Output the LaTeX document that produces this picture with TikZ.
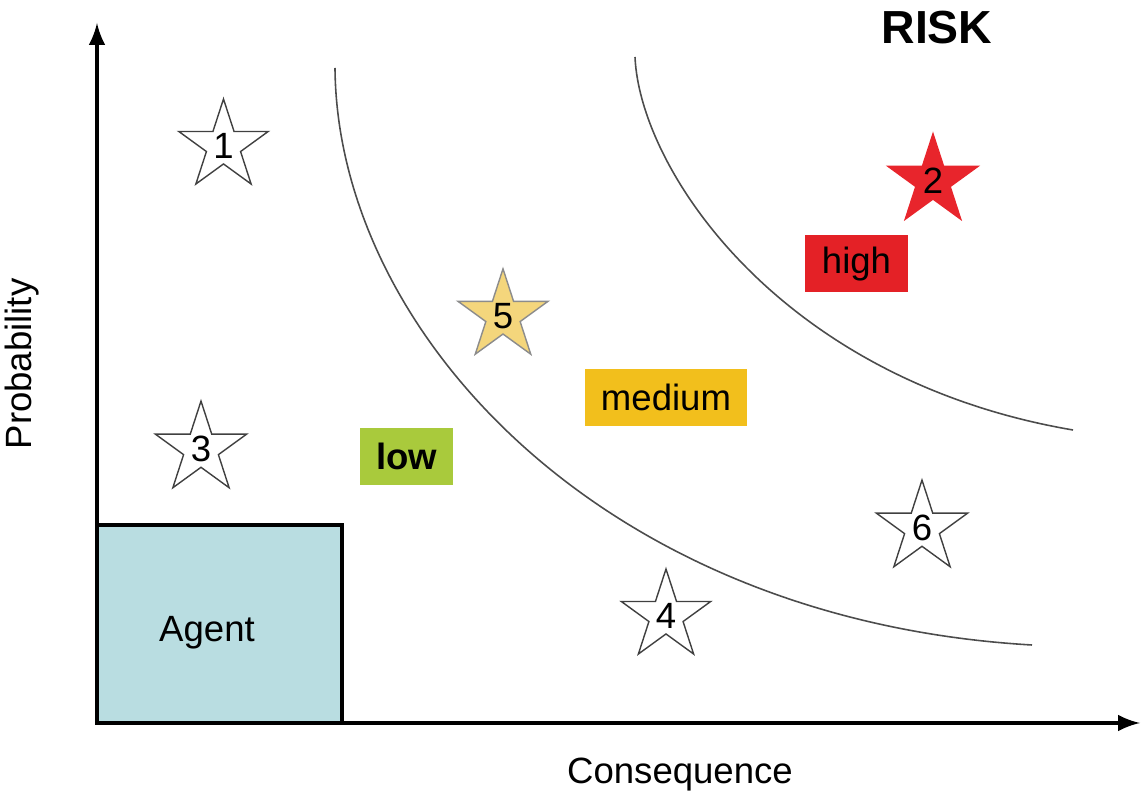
\documentclass[tikz,border=0pt]{standalone}
\usepackage{fontspec}
\setmainfont{Liberation Sans}
\usepackage{tikz}
\usetikzlibrary{arrows,shapes,positioning}

\definecolor{agentblue}{HTML}{B9DDE1}
\definecolor{lowgreen}{HTML}{A9CA3C}
\definecolor{medgold}{HTML}{F2BF1C}
\definecolor{highred}{HTML}{E42126}
\definecolor{starred}{HTML}{E8252C}
\definecolor{staryellow}{HTML}{F4D67C}

\begin{document}
\begin{tikzpicture}
    \useasboundingbox (0,0) rectangle (11.42,-7.97);

    \tikzset{every node/.style={font=\fontsize{10.4}{12}\selectfont},
        riskstar/.style={star,star points=5,star point ratio=2.618,draw=black!75,thin,
            minimum size=0.94cm,inner sep=0pt},
        levelbox/.style={rectangle,inner sep=0pt,minimum height=0.57cm},
        axis/.style={-latex,line width=1.15pt},
        border/.style={black!70,line width=0.45pt}}

    \draw[fill=agentblue, line width=1.4pt] (0.97,-5.25) rectangle (3.42,-7.23);
    \node at (2.07,-6.33) (agent) {Agent};

    \coordinate (o) at (0.97,-7.23);
    \coordinate (ytip) at (0.97,-0.23);
    \coordinate (xtip) at (11.40,-7.23);
    \draw[axis] (o) -- (ytip);
    \draw[axis] (o) -- (xtip);

    \node[rotate=90] at (0.22,-3.64) (prob) {Probability};
    \node at (6.80,-7.75) (cons) {Consequence};
    \node[font=\fontsize{13.2}{15}\selectfont\bfseries] at (9.37,-0.28) (risk) {RISK};

    \draw[border] (3.35,-0.68) .. controls (3.37,-3.30) and (6.00,-6.20) .. (10.32,-6.45);
    \draw[border] (6.35,-0.57) .. controls (6.40,-1.70) and (7.80,-3.80) .. (10.73,-4.30);

    \node[levelbox, fill=lowgreen, minimum width=0.93cm, font=\fontsize{10.4}{12}\selectfont\bfseries]
        at (4.065,-4.565) (low) {low};
    \node[levelbox, fill=medgold, minimum width=1.62cm] at (6.66,-3.975) (medium) {medium};
    \node[levelbox, fill=highred, minimum width=1.03cm] at (8.565,-2.64) (high) {high};

    \node[riskstar] at (2.235,-1.46) (s1) {1};
    \node[riskstar, fill=starred, draw=starred] at (9.33,-1.81) (s2) {2};
    \node[riskstar] at (2.01,-4.49) (s3) {3};
    \node[riskstar] at (6.66,-6.16) (s4) {4};
    \node[riskstar, fill=staryellow, draw=black!45] at (5.03,-3.16) (s5) {5};
    \node[riskstar] at (9.22,-5.28) (s6) {6};
\end{tikzpicture}
\end{document}
